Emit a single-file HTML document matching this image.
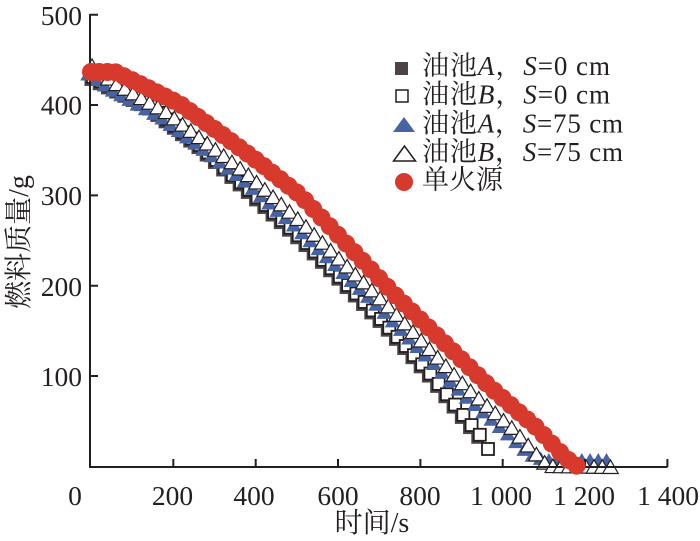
<!DOCTYPE html>
<html><head><meta charset="utf-8"><style>
html,body{margin:0;padding:0;background:#fff;}
svg{display:block;}
text{font-family:"Liberation Serif","Noto Serif CJK SC",serif;fill:#231f20;}
</style></head><body>
<svg id="s" width="700" height="541" viewBox="0 0 700 541" xmlns="http://www.w3.org/2000/svg">
<rect width="700" height="541" fill="#fff"/>
<g id="lower"></g>
<g stroke="#231f20" stroke-width="2" fill="none">
<path d="M90,14 V467 H667.5"/>
<path d="M90,376 H98 M90,285.8 H98 M90,195.4 H98 M90,105 H98 M90,14.7 H98"/>
<path d="M173.3,467 V459 M255.7,467 V459 M338,467 V459 M420.4,467 V459 M502.7,467 V459 M585,467 V459 M667.4,467 V459"/>
</g>
<g id="upper"></g>
<g font-size="27.5">
<text x="82" y="25" text-anchor="end">500</text>
<text x="82" y="114.5" text-anchor="end">400</text>
<text x="82" y="205" text-anchor="end">300</text>
<text x="82" y="296" text-anchor="end">200</text>
<text x="82" y="386" text-anchor="end">100</text>
<text x="75" y="505" text-anchor="middle">0</text>
<text x="172.5" y="505" text-anchor="middle">200</text>
<text x="254" y="505" text-anchor="middle">400</text>
<text x="338" y="505" text-anchor="middle">600</text>
<text x="420" y="505" text-anchor="middle">800</text>
<text x="501" y="505" text-anchor="middle">1 000</text>
<text x="584" y="505" text-anchor="middle">1 200</text>
<text x="668" y="505" text-anchor="middle">1 400</text>
</g>
<text font-size="28" transform="translate(28,242) rotate(-90)" text-anchor="middle">燃料质量/g</text>
<text font-size="28" x="372" y="532" text-anchor="middle">时间/s</text>
<g>
<rect x="395" y="62" width="13" height="13" fill="#4b4345"/>
<rect x="396" y="90" width="12" height="12" fill="#fff" stroke="#231f20" stroke-width="1.5"/>
<polygon points="404,117 393,132 415,132" fill="#4863a3"/>
<polygon points="404.5,146 393.5,161 415.5,161" fill="#fff" stroke="#231f20" stroke-width="1.5"/>
<circle cx="404" cy="182" r="9" fill="#d7392d"/>
</g>
<g font-size="27">
<text x="422" y="75" textLength="188">油池<tspan font-style="italic">A</tspan>，<tspan font-style="italic">S</tspan>=0 cm</text>
<text x="422" y="103.5" textLength="188">油池<tspan font-style="italic">B</tspan>，<tspan font-style="italic">S</tspan>=0 cm</text>
<text x="422" y="132.5" textLength="201">油池<tspan font-style="italic">A</tspan>，<tspan font-style="italic">S</tspan>=75 cm</text>
<text x="422" y="161" textLength="201">油池<tspan font-style="italic">B</tspan>，<tspan font-style="italic">S</tspan>=75 cm</text>
<text x="422" y="189" textLength="81">单火源</text>
</g>
</svg>
<script>
(function(){
function yAt(p,x){for(var i=1;i<p.length;i++){if(x<=p[i][0]){var a=p[i-1],b=p[i];var t=(x-a[0])/(b[0]-a[0]);return a[1]+(b[1]-a[1])*t;}}return p[p.length-1][1];}
function sx(p,step){var out=[];var x0=p[0][0],x1=p[p.length-1][0];for(var x=x0;x<=x1+0.01;x+=step){out.push([x,yAt(p,x)]);}return out;}
var STEP=8.23;
var sq=[[93,77],[150,106],[200,145],[255,195],[305,241],[353,290],[386,324],[430,373],[469,422],[480,435]];
var tri=[[92,66],[113,82],[166,112],[246,173],[300,221],[387,305],[467,388],[513,429],[537,455],[548,466],[612,467]];
var blu=[[88,74],[109,88],[162,118],[242,179],[296,227],[383,311],[463,394],[509,435],[529,454],[545,460],[610,460]];
var red=[[91,72],[115,72],[140,84],[180,104],[220,133],[260,163],[300,195],[397,297],[490,387],[537,428],[555,447],[567,459],[577,466]];
var s='';
var ps=sx(sq,STEP);ps.push([488,449]);
for(var i=0;i<ps.length-1;i++){var p=ps[i];s+='<rect x="'+(p[0]-6-2.5)+'" y="'+(p[1]-6+2.5)+'" width="12.5" height="12.5" fill="#4b4345"/>';}
for(var i=0;i<ps.length;i++){var p=ps[i];s+='<rect x="'+(p[0]-6)+'" y="'+(p[1]-6)+'" width="12" height="12" fill="#fff" stroke="#231f20" stroke-width="1.8"/>';}
var pb=sx(blu,STEP);
for(var i=0;i<pb.length;i++){var p=pb[i];s+='<polygon points="'+p[0]+','+(p[1]-7)+' '+(p[0]-7.8)+','+(p[1]+6.5)+' '+(p[0]+7.8)+','+(p[1]+6.5)+'" fill="#4863a3"/>';}
var pt=sx(tri,STEP);
for(var i=0;i<pt.length;i++){var p=pt[i];s+='<polygon points="'+p[0]+','+(p[1]-7)+' '+(p[0]-7.8)+','+(p[1]+6.5)+' '+(p[0]+7.8)+','+(p[1]+6.5)+'" fill="#fff" stroke="#231f20" stroke-width="1.2"/>';}
document.getElementById('lower').innerHTML=s;
var r='';var pr=sx(red,STEP);
for(var i=0;i<pr.length;i++){var p=pr[i];r+='<circle cx="'+p[0]+'" cy="'+p[1]+'" r="9" fill="#d7392d"/>';}
document.getElementById('upper').innerHTML=r;
})();
</script>
</body></html>
